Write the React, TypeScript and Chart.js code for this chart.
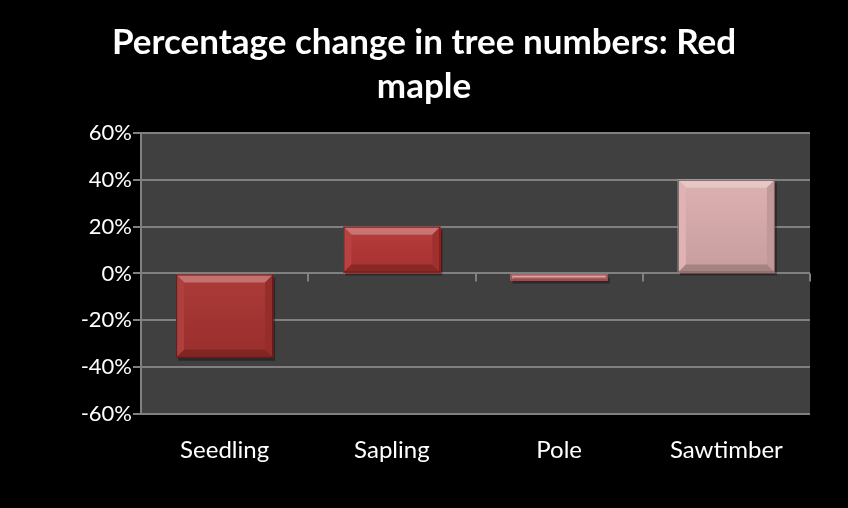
import React, { useEffect, useRef } from "react";
import { Chart, registerables } from "chart.js";

Chart.register(...registerables);

const titleLines = ["Percentage change in tree numbers: Red", "maple"];
const categories = ["Seedling", "Sapling", "Pole", "Sawtimber"];
const values = [-36, 20, -3, 40];
const barColors = ["#a93331", "#b53635", "#d97f7d", "#ddaeae"];
const yMin = -60;
const yMax = 60;
const yStep = 20;

const FONT = "Lato, 'Open Sans', sans-serif";

function shade(hex: string, amt: number) {
  const n = parseInt(hex.slice(1), 16);
  let r = (n >> 16) & 255, g = (n >> 8) & 255, b = n & 255;
  const f = (c: number) => Math.max(0, Math.min(255, Math.round(amt >= 0 ? c + (255 - c) * amt : c * (1 + amt))));
  return `rgb(${f(r)},${f(g)},${f(b)})`;
}

const bgPlugin = {
  id: "bgPlugin",
  beforeDraw(chart: any) {
    const { ctx, chartArea } = chart;
    ctx.save();
    ctx.fillStyle = "#000000";
    ctx.fillRect(0, 0, chart.width, chart.height);
    ctx.fillStyle = "#404040";
    ctx.fillRect(chartArea.left, chartArea.top, chartArea.right - chartArea.left, chartArea.bottom - chartArea.top);
    ctx.restore();
  },
};

const bevelPlugin = {
  id: "bevelPlugin",
  beforeDatasetsDraw(chart: any) {
    const { ctx } = chart;
    const meta = chart.getDatasetMeta(0);
    ctx.save();
    meta.data.forEach((bar: any) => {
      const { x, y, base, width } = bar.getProps(["x", "y", "base", "width"], true);
      const l = x - width / 2;
      const t = Math.min(y, base);
      const h = Math.abs(base - y);
      ctx.fillStyle = "rgba(0,0,0,0.35)";
      ctx.fillRect(l + 2, t + 3, width, h);
    });
    ctx.restore();
  },
  afterDatasetsDraw(chart: any) {
    const { ctx } = chart;
    const meta = chart.getDatasetMeta(0);
    ctx.save();
    meta.data.forEach((bar: any, i: number) => {
      const { x, y, base, width } = bar.getProps(["x", "y", "base", "width"], true);
      const c = barColors[i];
      const l = x - width / 2;
      const r = x + width / 2;
      const t = Math.min(y, base);
      const b = Math.max(y, base);
      const h = b - t;
      const bv = Math.min(8, h / 2);
      const g = ctx.createLinearGradient(0, t, 0, b);
      g.addColorStop(0, shade(c, 0.04));
      g.addColorStop(1, shade(c, -0.1));
      ctx.fillStyle = g;
      ctx.fillRect(l, t, width, h);
      ctx.beginPath();
      ctx.moveTo(l, t); ctx.lineTo(r, t); ctx.lineTo(r - bv, t + bv); ctx.lineTo(l + bv, t + bv); ctx.closePath();
      ctx.fillStyle = shade(c, 0.3);
      ctx.fill();
      ctx.beginPath();
      ctx.moveTo(l, t); ctx.lineTo(l + bv, t + bv); ctx.lineTo(l + bv, b - bv); ctx.lineTo(l, b); ctx.closePath();
      ctx.fillStyle = shade(c, 0.06);
      ctx.fill();
      ctx.beginPath();
      ctx.moveTo(r, t); ctx.lineTo(r - bv, t + bv); ctx.lineTo(r - bv, b - bv); ctx.lineTo(r, b); ctx.closePath();
      ctx.fillStyle = shade(c, -0.12);
      ctx.fill();
      ctx.beginPath();
      ctx.moveTo(l, b); ctx.lineTo(r, b); ctx.lineTo(r - bv, b - bv); ctx.lineTo(l + bv, b - bv); ctx.closePath();
      ctx.fillStyle = shade(c, -0.25);
      ctx.fill();
      ctx.strokeStyle = shade(c, -0.45);
      ctx.lineWidth = 1;
      ctx.strokeRect(l + 0.5, t + 0.5, width - 1, h - 1);
    });
    ctx.restore();
  },
  afterDraw(chart: any) {
    const { ctx } = chart;
    const xs = chart.scales.x;
    const ys = chart.scales.y;
    const y0 = ys.getPixelForValue(0);
    const n = categories.length;
    const half = (xs.getPixelForValue(1) - xs.getPixelForValue(0)) / 2;
    ctx.save();
    ctx.strokeStyle = "#808080";
    ctx.lineWidth = 2;
    for (let i = 0; i <= n; i++) {
      const px = Math.round(xs.getPixelForValue(Math.min(i, n - 1)) + (i === n ? half : -half));
      ctx.beginPath();
      ctx.moveTo(px, y0);
      ctx.lineTo(px, y0 + 8);
      ctx.stroke();
    }
    ctx.restore();
  },
};

export default function App() {
  const ref = useRef<HTMLCanvasElement | null>(null);
  useEffect(() => {
    document.body.style.margin = "0";
    document.body.style.background = "#000";
    const chart = new Chart(ref.current as HTMLCanvasElement, {
      type: "bar",
      data: {
        labels: categories,
        datasets: [
          {
            data: values,
            backgroundColor: barColors,
            borderWidth: 0,
            barPercentage: 0.58,
            categoryPercentage: 1,
          },
        ],
      },
      options: {
        animation: false,
        responsive: false,
        layout: { padding: 0 },
        plugins: {
          legend: { display: false },
          tooltip: { enabled: false },
          title: {
            display: true,
            text: titleLines,
            color: "#ffffff",
            font: { family: FONT, size: 35, weight: "bold", lineHeight: 1.257 },
            padding: { top: 21, bottom: 24 },
          },
        },
        scales: {
          x: {
            grid: { display: false },
            border: { display: false },
            ticks: { color: "#ffffff", font: { family: FONT, size: 24 }, padding: 14 },
            afterFit(scale: any) { scale.height = 94; },
          },
          y: {
            min: yMin,
            max: yMax,
            grid: { color: "#808080", lineWidth: 2, tickLength: 8, drawTicks: true },
            border: { display: true, color: "#808080", width: 2 },
            ticks: {
              stepSize: yStep,
              color: "#ffffff",
              font: { family: FONT, size: 22 },
              padding: 1,
              callback: (v: any) => `${v}%`,
            },
            afterFit(scale: any) { scale.width = 141; },
          },
          y2: {
            position: "right",
            display: true,
            grid: { display: false },
            border: { display: false },
            ticks: { display: false },
            afterFit(scale: any) { scale.width = 38; },
          },
        },
      } as any,
      plugins: [bgPlugin, bevelPlugin],
    });
    return () => chart.destroy();
  }, []);
  return <canvas ref={ref} width={848} height={508} style={{ display: "block" }} />;
}
